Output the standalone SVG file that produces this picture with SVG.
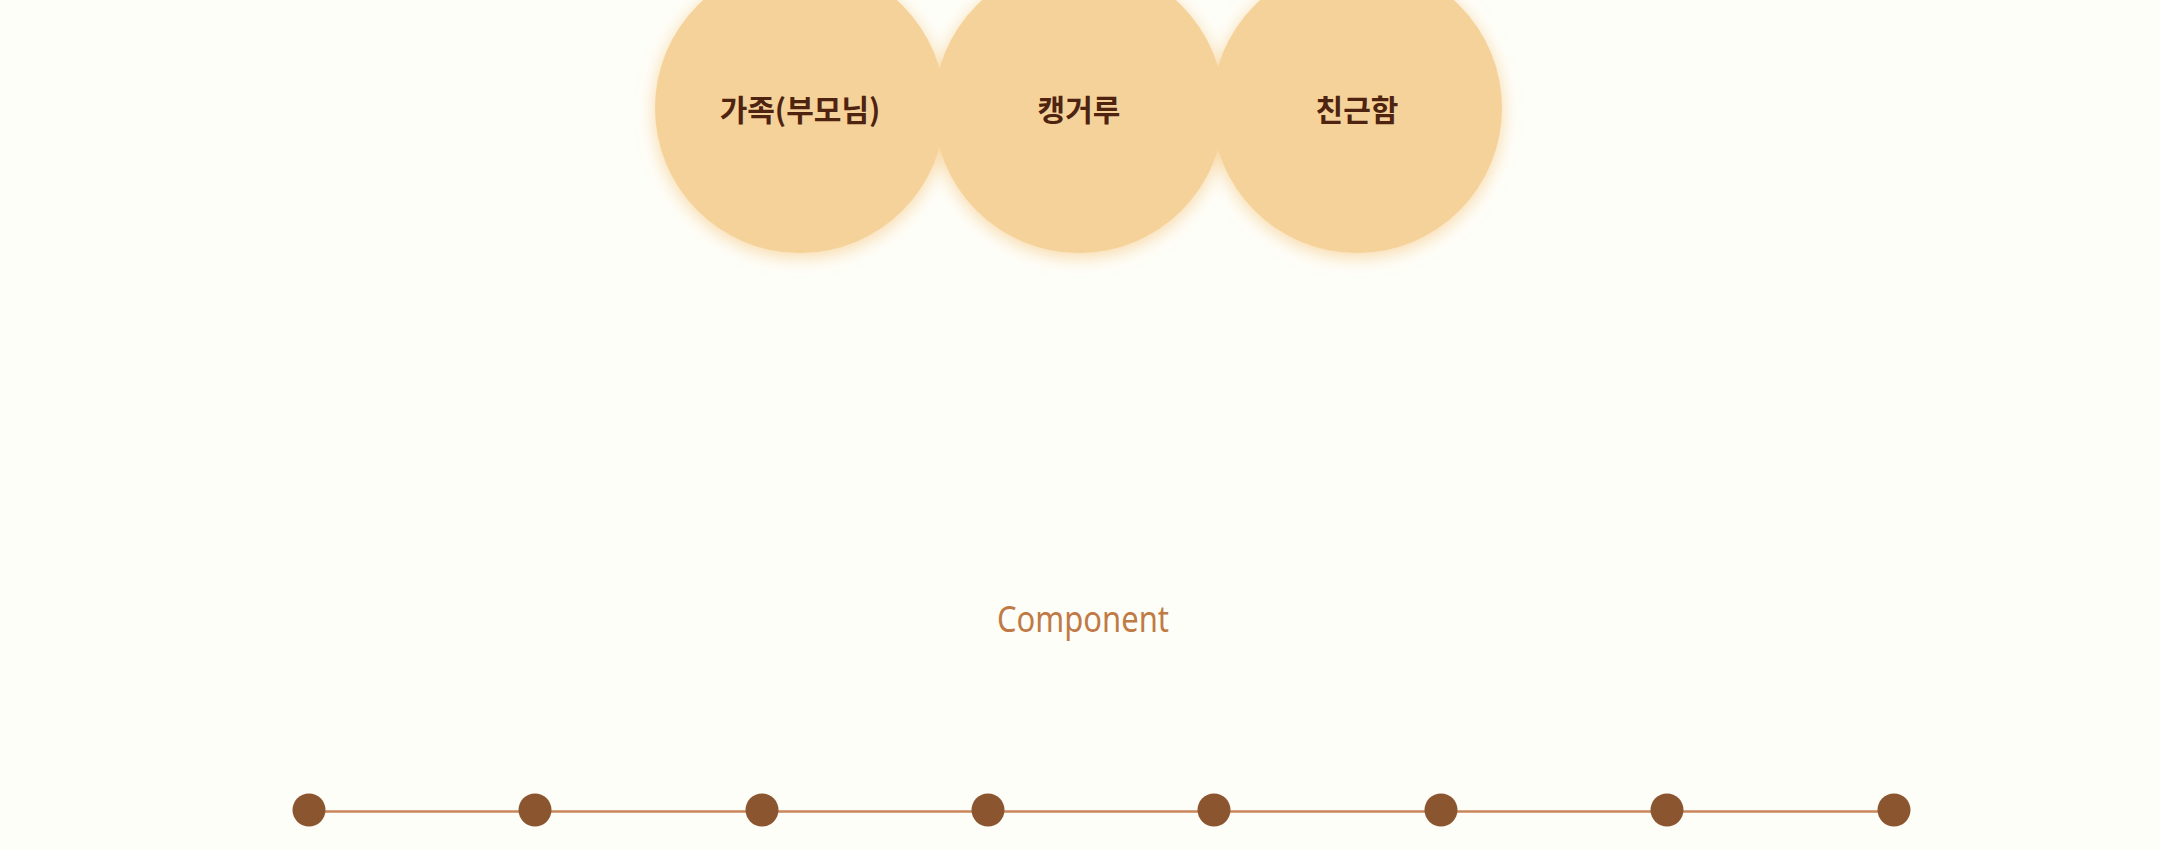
<svg xmlns="http://www.w3.org/2000/svg" width="2160" height="850" viewBox="0 0 2160 850">
<defs>
<filter id="glow" x="-30%" y="-30%" width="160%" height="160%">
<feGaussianBlur in="SourceAlpha" stdDeviation="9"/>
<feOffset dx="0" dy="4" result="b"/>
<feFlood flood-color="#f2b860" flood-opacity="0.55"/>
<feComposite in2="b" operator="in"/>
</filter>
</defs>
<style>
.node circle{fill:#f6d29b}
.shadow circle{fill:#000}
.node text{font-family:"Noto Sans CJK KR","Noto Sans",sans-serif;font-weight:700;font-size:30px;fill:#4e2410;text-anchor:middle;dominant-baseline:central}
.dot{fill:#8b5530}
.conn{stroke:#c8865a;stroke-width:2.5;fill:none}
.title{font-family:"Noto Sans","Liberation Sans",sans-serif;font-size:36px;fill:#c07a45;text-anchor:middle}
</style>
<rect width="2160" height="850" fill="#fefef9"/>
<g class="shadow" filter="url(#glow)">
<circle cx="800" cy="108" r="145"/><circle cx="1079" cy="108" r="145"/><circle cx="1357" cy="108" r="145"/>
</g>
<g id="node-family" class="node"><circle cx="800" cy="108" r="145"/><text x="800" y="108">가족(부모님)</text></g>
<g id="node-kangaroo" class="node"><circle cx="1079" cy="108" r="145"/><text x="1079" y="108">캥거루</text></g>
<g id="node-intimacy" class="node"><circle cx="1357" cy="108" r="145"/><text x="1357" y="108">친근함</text></g>
<text class="title" x="1083" y="632" textLength="172" lengthAdjust="spacingAndGlyphs">Component</text>
<g id="connectors"><line class="conn" x1="309" y1="811.5" x2="1894" y2="811.5"/></g>
<g id="timeline">
<circle class="dot" cx="309" cy="810" r="16.5"/>
<circle class="dot" cx="535" cy="810" r="16.5"/>
<circle class="dot" cx="762" cy="810" r="16.5"/>
<circle class="dot" cx="988" cy="810" r="16.5"/>
<circle class="dot" cx="1214" cy="810" r="16.5"/>
<circle class="dot" cx="1441" cy="810" r="16.5"/>
<circle class="dot" cx="1667" cy="810" r="16.5"/>
<circle class="dot" cx="1894" cy="810" r="16.5"/>
</g>
</svg>
